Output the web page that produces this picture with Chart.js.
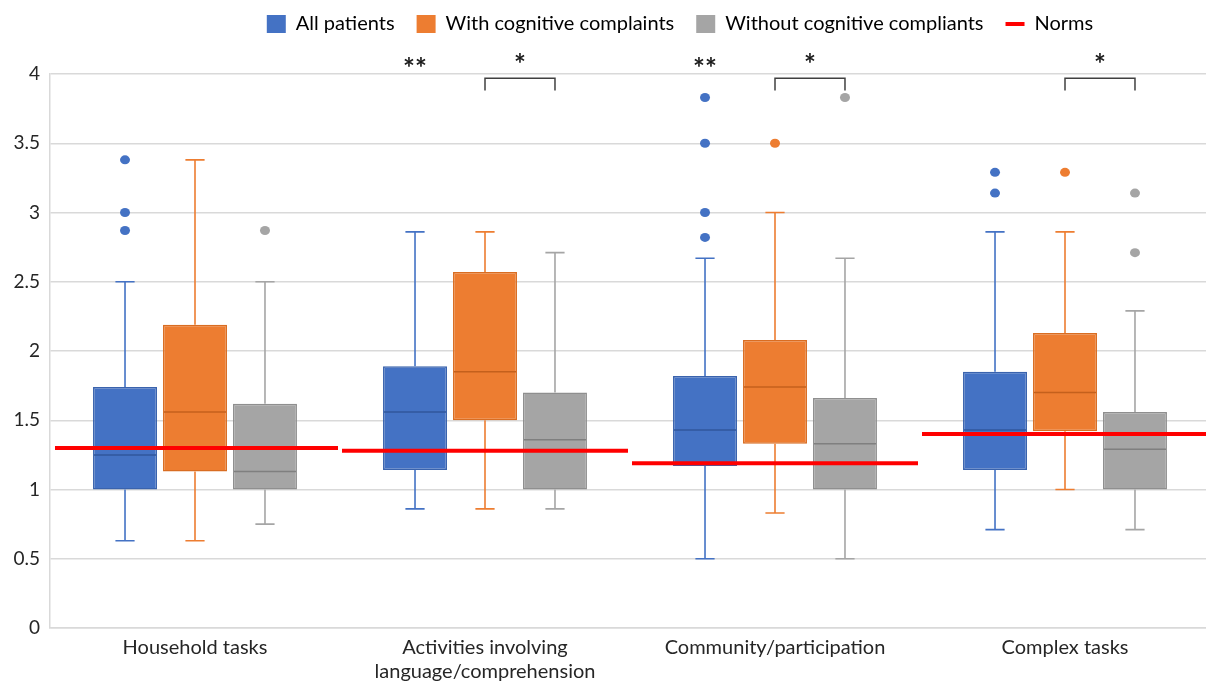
<!DOCTYPE html>
<html lang="en">
<head>
    <meta charset="UTF-8">
    <title>Box plots by domain</title>
    <script src="https://cdn.jsdelivr.net/npm/chart.js"></script>
    <style>
        html, body { margin: 0; padding: 0; background: #ffffff; overflow: hidden; }
        .wrap { width: 1210px; height: 685px; position: relative; }
    </style>
</head>
<body>
<div class="wrap"><canvas id="boxChart"></canvas></div>
<script>
    // categories and series
    const categories = ['Household tasks', ['Activities involving', 'language/comprehension'], 'Community/participation', 'Complex tasks'];
    const seriesNames = ['All patients', 'With cognitive complaints', 'Without cognitive compliants'];

    // [min, q1, median, q3, max] per category
    const allPatients = [[0.63, 1.0, 1.25, 1.74, 2.5], [0.86, 1.14, 1.56, 1.89, 2.86], [0.5, 1.17, 1.43, 1.82, 2.67], [0.71, 1.14, 1.43, 1.85, 2.86]];
    const withComplaints = [[0.63, 1.13, 1.56, 2.19, 3.38], [0.86, 1.5, 1.85, 2.57, 2.86], [0.83, 1.33, 1.74, 2.08, 3.0], [1.0, 1.42, 1.7, 2.13, 2.86]];
    const withoutComplaints = [[0.75, 1.0, 1.13, 1.62, 2.5], [0.86, 1.0, 1.36, 1.7, 2.71], [0.5, 1.0, 1.33, 1.66, 2.67], [0.71, 1.0, 1.29, 1.56, 2.29]];

    // outliers per category
    const allOutliers = [[3.38, 3.0, 2.87], [], [3.83, 3.5, 3.0, 2.82], [3.29, 3.14]];
    const withOutliers = [[], [], [3.5], [3.29]];
    const withoutOutliers = [[2.87], [], [3.83], [3.14, 2.71]];

    // norm values per category
    const norms = [1.30, 1.28, 1.19, 1.40];

    // significance marks
    const allVsNorms = ['', '**', '**', ''];
    const withVsWithout = ['', '*', '*', '*'];

    const yTicks = [0, 0.5, 1, 1.5, 2, 2.5, 3, 3.5, 4];

    const stats = [allPatients, withComplaints, withoutComplaints];
    const outliers = [allOutliers, withOutliers, withoutOutliers];
    const fills = ['#4472c4', '#ed7d31', '#a5a5a5'];
    const edges = ['#3a63ad', '#d96d22', '#8f8f8f'];
    const medians = ['#31579c', '#c4601c', '#7f7f7f'];

    const boxPlugin = {
        id: 'boxExtras',
        beforeInit(chart) {
            const fit = chart.legend.fit;
            chart.legend.fit = function () {
                fit.bind(chart.legend)();
                this.height = 74;
            };
        },
        afterLayout(chart) {
            // legend sits a bit right of centre and higher in the original
            chart.legend.left += 75;
            chart.legend.right += 75;
            chart.legend.top -= 8;
            chart.legend.bottom -= 8;
        },
        afterDatasetsDraw(chart) {
            const ctx = chart.ctx;
            const y = chart.scales.y;
            const x = chart.scales.x;
            ctx.save();
            stats.forEach((series, i) => {
                const meta = chart.getDatasetMeta(i);
                meta.data.forEach((bar, j) => {
                    const s = series[j];
                    const cx = bar.x, w = bar.width;
                    const cap = w * 0.15;
                    ctx.strokeStyle = fills[i];
                    ctx.lineWidth = 1.6;
                    ctx.beginPath();
                    ctx.moveTo(cx, y.getPixelForValue(s[3]));
                    ctx.lineTo(cx, y.getPixelForValue(s[4]));
                    ctx.moveTo(cx - cap, y.getPixelForValue(s[4]));
                    ctx.lineTo(cx + cap, y.getPixelForValue(s[4]));
                    ctx.moveTo(cx, y.getPixelForValue(s[1]));
                    ctx.lineTo(cx, y.getPixelForValue(s[0]));
                    ctx.moveTo(cx - cap, y.getPixelForValue(s[0]));
                    ctx.lineTo(cx + cap, y.getPixelForValue(s[0]));
                    ctx.stroke();
                    // median
                    ctx.strokeStyle = medians[i];
                    ctx.lineWidth = 1.5;
                    ctx.beginPath();
                    ctx.moveTo(cx - w / 2 + 1, y.getPixelForValue(s[2]));
                    ctx.lineTo(cx + w / 2 - 1, y.getPixelForValue(s[2]));
                    ctx.stroke();
                    // outliers
                    ctx.fillStyle = fills[i];
                    outliers[i][j].forEach(v => {
                        ctx.beginPath();
                        ctx.ellipse(cx, y.getPixelForValue(v), 5, 4.5, 0, 0, Math.PI * 2);
                        ctx.fill();
                    });
                });
            });

            // norm lines
            const half = (x.right - x.left) / categories.length / 2;
            ctx.strokeStyle = '#ff0000';
            ctx.lineWidth = 4;
            norms.forEach((v, j) => {
                const cx = x.getPixelForValue(j);
                ctx.beginPath();
                ctx.moveTo(cx - half + (j === 0 ? 5 : 2), y.getPixelForValue(v));
                ctx.lineTo(cx + half - 2, y.getPixelForValue(v));
                ctx.stroke();
            });

            // significance marks
            const m0 = chart.getDatasetMeta(0), m1 = chart.getDatasetMeta(1), m2 = chart.getDatasetMeta(2);
            ctx.fillStyle = '#1a1a1a';
            ctx.font = 'bold 28px Lato';
            ctx.textAlign = 'center';
            ctx.textBaseline = 'alphabetic';
            allVsNorms.forEach((t, j) => {
                if (t) ctx.fillText(t, m0.data[j].x, y.getPixelForValue(3.97));
            });
            withVsWithout.forEach((t, j) => {
                if (!t) return;
                const a = m1.data[j].x, b = m2.data[j].x;
                ctx.strokeStyle = '#404040';
                ctx.lineWidth = 1.5;
                ctx.beginPath();
                ctx.moveTo(a, y.getPixelForValue(3.88));
                ctx.lineTo(a, y.getPixelForValue(3.97));
                ctx.lineTo(b, y.getPixelForValue(3.97));
                ctx.lineTo(b, y.getPixelForValue(3.88));
                ctx.stroke();
                ctx.fillText(t, (a + b) / 2, y.getPixelForValue(4.0));
            });
            ctx.restore();
        }
    };

    new Chart(document.getElementById('boxChart'), {
        type: 'bar',
        data: {
            labels: categories,
            datasets: stats.map((series, i) => ({
                label: seriesNames[i],
                data: series.map(s => [s[1], s[3]]),
                backgroundColor: fills[i],
                borderColor: edges[i],
                borderWidth: 1.5,
                borderSkipped: false,
                categoryPercentage: 0.724,
                barPercentage: 0.914
            }))
        },
        options: {
            responsive: true,
            maintainAspectRatio: false,
            animation: false,
            layout: { padding: 0 },
            plugins: {
                tooltip: { enabled: false },
                legend: {
                    position: 'top',
                    labels: {
                        usePointStyle: true,
                        pointStyleWidth: 19,
                        boxHeight: 18,
                        padding: 22,
                        color: '#262626',
                        font: { family: 'Lato', size: 20 },
                        generateLabels: () => seriesNames.map((n, i) => ({
                            text: n, fillStyle: fills[i], strokeStyle: fills[i], lineWidth: 0,
                            pointStyle: 'rect', hidden: false, datasetIndex: i
                        })).concat([{
                            text: 'Norms', fillStyle: '#ff0000', strokeStyle: '#ff0000', lineWidth: 4,
                            pointStyle: 'line', hidden: false
                        }])
                    }
                }
            },
            scales: {
                x: {
                    afterFit: axis => { axis.height = 57; },
                    grid: { display: false, drawTicks: false },
                    border: { display: true, color: '#d9d9d9', width: 1.5 },
                    ticks: { color: '#262626', font: { family: 'Lato', size: 20, lineHeight: 1.2 }, padding: 8, maxRotation: 0 }
                },
                y: {
                    min: 0,
                    max: 4,
                    afterFit: axis => { axis.width = 50; },
                    afterBuildTicks: axis => { axis.ticks = yTicks.map(v => ({ value: v })); },
                    grid: { color: '#d9d9d9', lineWidth: 1.5, drawTicks: false },
                    border: { display: true, color: '#d9d9d9', width: 1.5 },
                    ticks: { color: '#262626', font: { family: 'Lato', size: 19 }, padding: 10, callback: v => String(v) }
                }
            }
        },
        plugins: [boxPlugin]
    });
</script>
</body>
</html>
